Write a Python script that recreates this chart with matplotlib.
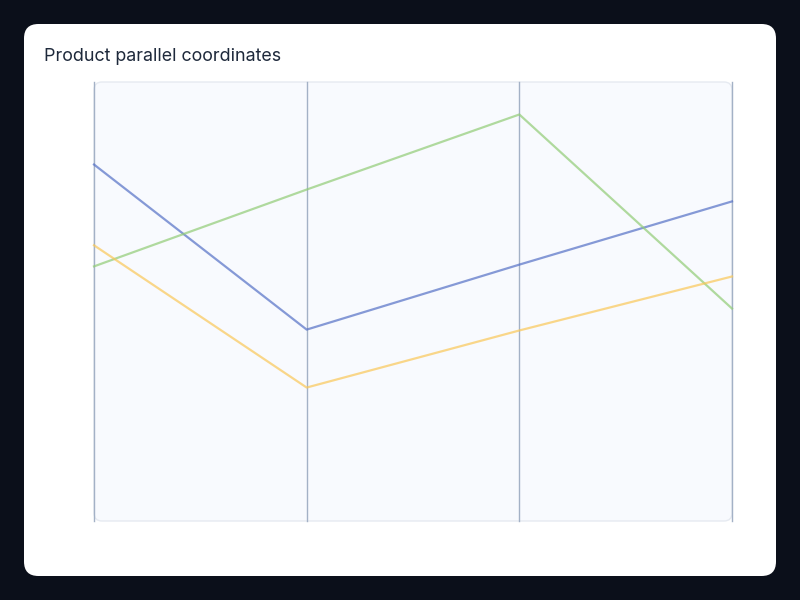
import matplotlib.pyplot as plt
from matplotlib.patches import FancyBboxPatch

# axis positions (4 dimensions) and one polyline per product, values on 0-100 scale
dims = [0, 1, 2, 3]
series_a = [81.2, 43.6, 58.4, 72.8]
series_b = [58.0, 75.5, 92.6, 48.4]
series_c = [62.8, 30.4, 43.4, 55.7]

COLORS = ['#5470c6', '#91cc75', '#fac858']

fig = plt.figure(figsize=(8, 6), dpi=100)
fig.patch.set_facecolor('#0b0f1a')

# white card
card = FancyBboxPatch((24 / 800, 24 / 600), 752 / 800, 552 / 600,
                      boxstyle="round,pad=0,rounding_size=0.018",
                      transform=fig.transFigure, facecolor='white',
                      edgecolor='none', mutation_aspect=800 / 600, zorder=-2)
fig.patches.append(card)

fig.text(44 / 800, 1 - 56.5 / 600, "Product parallel coordinates",
         fontsize=12.9, family=['Inter', 'DejaVu Sans'], color='#1e293b',
         va='center', ha='left')

left, right = 94 / 800, 732 / 800
bottom, top = 1 - 521 / 600, 1 - 82 / 600

# plot area background
bg = FancyBboxPatch((left, bottom), right - left, top - bottom,
                    boxstyle="round,pad=0,rounding_size=0.01",
                    transform=fig.transFigure, facecolor='#f8fafe',
                    edgecolor='#e6eaf1', linewidth=1, mutation_aspect=800 / 600,
                    zorder=-1)
fig.patches.append(bg)

ax = fig.add_axes([left, bottom, right - left, top - bottom])
ax.set_zorder(1)
ax.patch.set_visible(False)
for s in ax.spines.values():
    s.set_visible(False)
ax.set_xticks([])
ax.set_yticks([])
ax.set_xlim(0, 3)
ax.set_ylim(0, 100)

for d in dims:
    ax.axvline(d, color='#a3b1c6', linewidth=1, zorder=1, clip_on=False)

for vals, c in zip([series_a, series_b, series_c], COLORS):
    ax.plot(dims, vals, color=c, alpha=0.7, linewidth=1.6, zorder=2, clip_on=False)

fig.savefig('out.png', dpi=100, facecolor=fig.get_facecolor())
